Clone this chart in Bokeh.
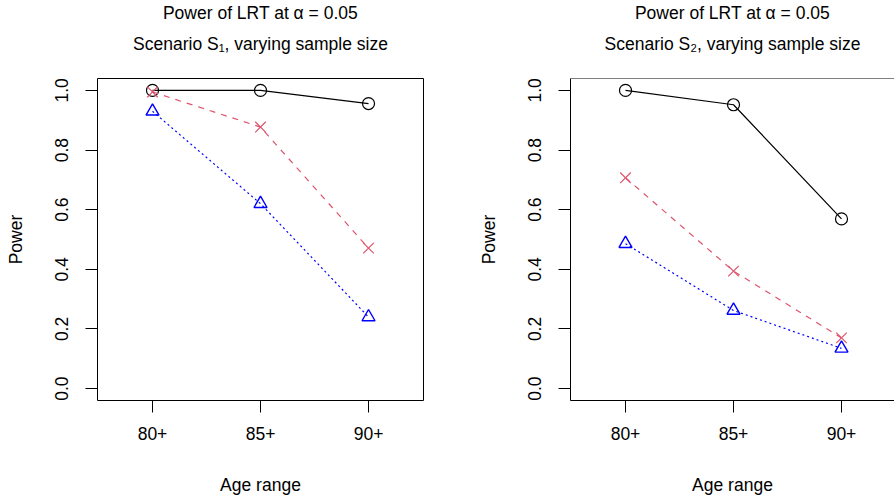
from bokeh.plotting import figure
from bokeh.models import Range1d, FixedTicker, PrintfTickFormatter, Span, Title
from bokeh.layouts import row
from bokeh.embed import file_html
from bokeh.resources import INLINE

# ---- data ----
ages = ["80+", "85+", "90+"]
y_ticks = [0.0, 0.2, 0.4, 0.6, 0.8, 1.0]
main_title = "Power of LRT at \u03b1 = 0.05"
sub_titles = ["Scenario S\u2081, varying sample size", "Scenario S\u2082, varying sample size"]

s1_black = [1.0, 1.0, 0.956]
s1_red = [0.995, 0.877, 0.471]
s1_blue = [0.930, 0.620, 0.240]

s2_black = [1.0, 0.952, 0.569]
s2_red = [0.707, 0.394, 0.170]
s2_blue = [0.486, 0.262, 0.135]

FONT = "Liberation Sans"
FS = "17.5px"
RED = "#DF536B"
BLUE = "#0000FF"


def title(text, standoff, size=FS):
    return Title(text=text, text_font=FONT, text_font_size=size, text_font_style="normal",
                 align="center", text_color="black", standoff=standoff)


def make(sub, black, red, blue, is_left):
    xs = list(range(1, len(ages) + 1))
    x_end = 3.509 if is_left else 3.4907
    p = figure(width=447, height=501, output_backend="svg", toolbar_location=None,
               x_range=Range1d(0.4907, x_end), y_range=Range1d(-0.04, 1.04),
               min_border_left=97 if is_left else 123,
               min_border_right=24 if is_left else 0,
               min_border_top=78, min_border_bottom=101,
               background_fill_color="white", border_fill_color="white")
    p.grid.visible = False
    if is_left:
        p.outline_line_color = "black"
        p.outline_line_width = 1
        axis_col = None
    else:
        p.outline_line_color = None
        axis_col = "black"
        p.add_layout(Span(location=p.y_range.end, dimension="width", line_color="black", line_width=1))

    p.add_layout(title(sub, 50), "above")
    p.add_layout(title(main_title, -32), "above")

    xa = p.xaxis[0]
    xa.ticker = FixedTicker(ticks=xs)
    xa.major_label_overrides = {x: a for x, a in zip(xs, ages)}
    xa.axis_label = "Age range"
    ya = p.yaxis[0]
    ya.ticker = FixedTicker(ticks=y_ticks)
    ya.formatter = PrintfTickFormatter(format="%.1f")
    ya.axis_label = "Power"
    ya.major_label_orientation = "vertical"
    for ax in (xa, ya):
        ax.axis_line_color = axis_col
        ax.axis_line_width = 1
        ax.major_tick_out = 12
        ax.major_tick_in = 0
        ax.major_tick_line_color = "black"
        ax.minor_tick_line_color = None
        ax.major_label_text_font = FONT
        ax.major_label_text_font_size = FS
        ax.major_label_text_color = "black"
        ax.axis_label_text_font = FONT
        ax.axis_label_text_font_size = FS
        ax.axis_label_text_font_style = "normal"
        ax.axis_label_text_color = "black"
    xa.major_label_standoff = 14
    xa.axis_label_standoff = 32
    ya.major_label_standoff = 17
    ya.axis_label_standoff = 27

    p.line(xs, black, line_color="black", line_width=1.2)
    p.scatter(xs, black, marker="circle", size=12, fill_color=None, line_color="black", line_width=1.2)
    p.line(xs, red, line_color=RED, line_width=1.2, line_dash="6 6")
    p.scatter(xs, red, marker="x", size=15, line_color=RED, line_width=1.2)
    p.line(xs, blue, line_color=BLUE, line_width=1.2, line_dash="2 3")
    p.scatter(xs, blue, marker="triangle", size=13, fill_color=None, line_color=BLUE, line_width=1.4)
    return p


p1 = make(sub_titles[0], s1_black, s1_red, s1_blue, True)
p2 = make(sub_titles[1], s2_black, s2_red, s2_blue, False)
layout = row(p1, p2)

open("out.html", "w").write(file_html(layout, INLINE))
